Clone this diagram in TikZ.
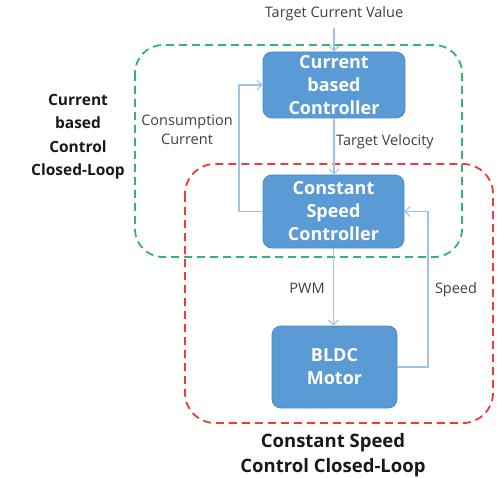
\documentclass[tikz,border=0pt]{standalone}
\usepackage{fontspec}
\setmainfont{Open Sans}
\usetikzlibrary{arrows.meta}
\definecolor{boxblue}{HTML}{5B9BD5}
\definecolor{boxedge}{HTML}{4A88C6}
\definecolor{linkblue}{HTML}{9DC3E6}
\definecolor{loopgreen}{HTML}{33B66A}
\definecolor{loopred}{HTML}{F03A3A}
\definecolor{labelgray}{HTML}{404040}
\begin{document}
\begin{tikzpicture}[x=1pt,y=-1pt,
  blk/.style={draw=boxedge, line width=0.8pt, fill=boxblue, rounded corners=9pt, text=white,
    font=\bfseries\fontsize{18}{23}\selectfont, align=center, inner sep=0pt},
  lbl/.style={text=labelgray, font=\fontsize{14.5}{19.5}\selectfont, align=center, inner sep=0pt},
  looplbl/.style={text=black!90, font=\bfseries\fontsize{15.5}{23.5}\selectfont, align=center, inner sep=0pt},
  link/.style={draw=linkblue, line width=1.1pt, -{Straight Barb[length=5pt,width=10pt,line width=1.1pt]}},
  frame/.style={line width=1.8pt, dash pattern=on 8pt off 5pt}
]
\useasboundingbox (0,0) rectangle (497,478);
\fill[white] (0,0) rectangle (497,478);

% loop frames
\draw[frame, draw=loopgreen, rounded corners=28pt] (135,45) rectangle (462,257);
\draw[frame, draw=loopred, rounded corners=30pt] (185,164) rectangle (493,423);

% blocks
\node[blk, minimum width=142pt, minimum height=66pt] (cbc) at (334,85) {Current\\based\\Controller};
\node[blk, minimum width=141pt, minimum height=73pt] (csc) at (333.5,211.5) {Constant\\Speed\\Controller};
\node[blk, minimum width=125pt, minimum height=82pt] (bldc) at (334.5,367) {BLDC\\Motor};

% labels
\node[lbl] (tcv) at (334,14) {Target Current Value};
\node[lbl, anchor=west] (tv) at (336,142) {Target Velocity};
\node[lbl] (cc) at (187,130) {Consumption\\Current};
\node[lbl] (pwm) at (307,288) {PWM};
\node[lbl] (spd) at (456,290) {Speed};
\node[looplbl] (cl1) at (78,137) {Current\\based\\Control\\Closed-Loop};
\node[looplbl, font=\bfseries\fontsize{18.5}{25}\selectfont] (cl2) at (333,455) {Constant Speed\\Control Closed-Loop};

% connectors
\coordinate (tin) at (334,28);
\draw[link] (tin) -- (cbc.north);
\draw[link] (cbc.south) -- (cbc.south |- csc.north);
\draw[link] (csc.west) -- (239,211.5) |- (cbc.west);
\draw[link] (csc.south) -- (csc.south |- bldc.north);
\draw[link] (bldc.east) -- (428,367) |- (csc.east);
\end{tikzpicture}
\end{document}
